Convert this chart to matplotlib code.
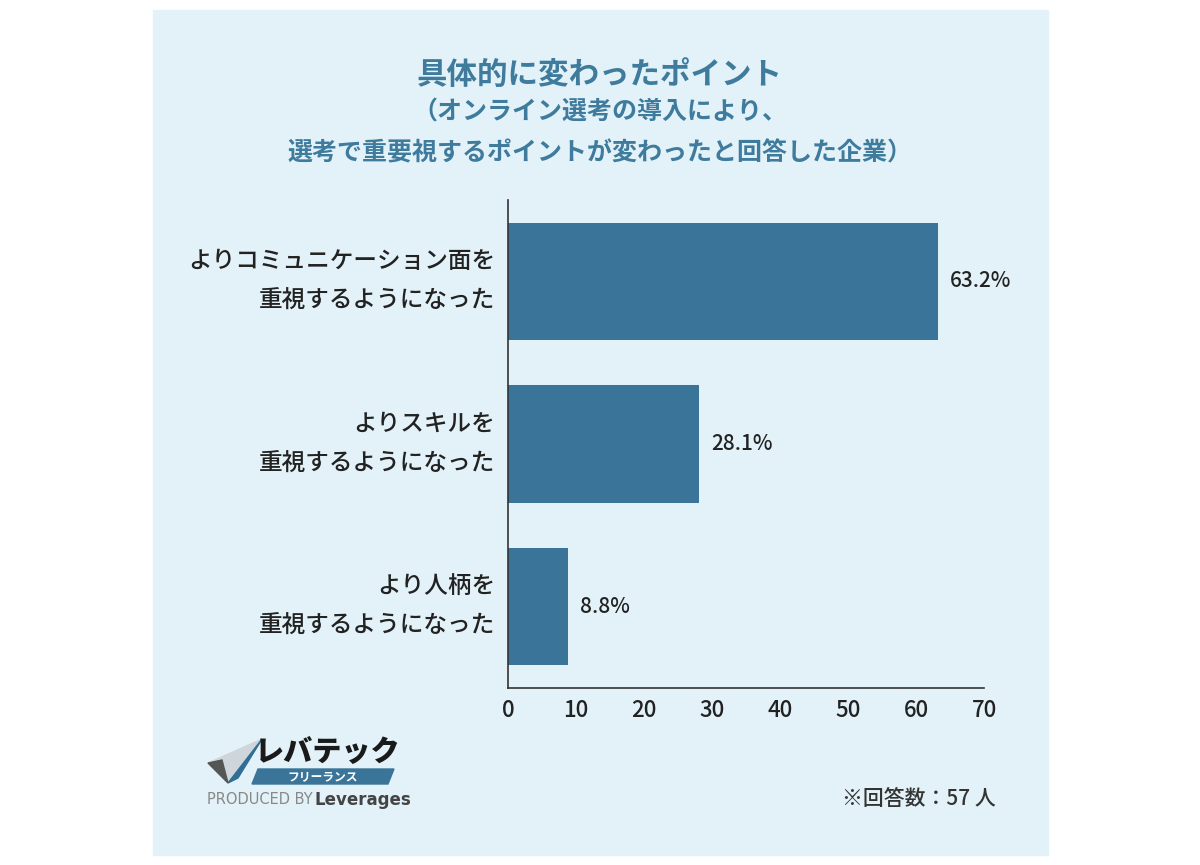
import numpy as np
import matplotlib
matplotlib.use("Agg")
import matplotlib.pyplot as plt
from matplotlib.patches import Rectangle, Polygon

plt.rcParams['font.family'] = ['Noto Sans CJK JP', 'DejaVu Sans']

#----------------------------------------------------
labels = ["よりコミュニケーション面を\n重視するようになった",
          "よりスキルを\n重視するようになった",
          "より人柄を\n重視するようになった"]
values = [63.2, 28.1, 8.8]
xticks = [0, 10, 20, 30, 40, 50, 60, 70]

bg = "#e2f2f8"
bar_col = "#3a7599"
title_col = "#3f7b9d"
text_col = "#222222"

fig = plt.figure(figsize=(12, 8.65), dpi=100)
# light panel
fig.patches.append(Rectangle((153/1200, 1-855/865), (1048-153)/1200, (855-10)/865,
                             transform=fig.transFigure, color=bg, zorder=-10))

ax = fig.add_axes([508/1200, 1-688/865, (984-508)/1200, (688-200)/865])
ax.set_facecolor("none")
y = np.arange(len(values))
ax.barh(y, values, height=0.72, color=bar_col)
ax.set_xlim(0, 70)
ax.set_ylim(2.5, -0.5)
ax.set_xticks(xticks)
ax.set_xticklabels([str(t) for t in xticks], fontsize=16, color=text_col,
                   fontweight="medium")
ax.set_yticks(y)
ax.set_yticklabels(labels, fontsize=17, color=text_col, linespacing=1.95,
                   fontweight="medium", va="center")
ax.tick_params(length=0)
ax.tick_params(axis='x', pad=8)
ax.tick_params(axis='y', pad=9)
for s in ["top", "right"]:
  ax.spines[s].set_visible(False)
for s in ["left", "bottom"]:
  ax.spines[s].set_color("#333333")
  ax.spines[s].set_linewidth(1.2)

for i, v in enumerate(values):
  ax.text(v + 1.8, i, "{:.1f}%".format(v), va="center", ha="left",
          fontsize=15, fontweight="medium", color=text_col)

# titles
fig.text(0.5, 1-75/865, "具体的に変わったポイント", ha="center", va="center",
         fontsize=22, fontweight="bold", color=title_col)
fig.text(0.5, 1-113/865, "（オンライン選考の導入により、", ha="center", va="center",
         fontsize=18, fontweight="bold", color=title_col)
fig.text(0.5, 1-153/865, "選考で重要視するポイントが変わったと回答した企業）", ha="center", va="center",
         fontsize=18, fontweight="bold", color=title_col)

fig.text(996/1200, 1-799/865, "※回答数：57 人", ha="right", va="center",
         fontsize=15, color="#333333", fontweight="medium")

# logo
def fx(px):
  return px/1200
def fy(py):
  return 1-py/865
fig.patches.append(Polygon([(fx(262), fy(739)), (fx(208), fy(763)), (fx(228), fy(783))],
                           closed=True, transform=fig.transFigure, color="#cfd6db", zorder=1))
fig.patches.append(Polygon([(fx(262), fy(739)), (fx(228), fy(783)), (fx(238), fy(778))],
                           closed=True, transform=fig.transFigure, color="#2f6e95", zorder=1))
fig.patches.append(Polygon([(fx(208), fy(763)), (fx(222), fy(760)), (fx(228), fy(783))],
                           closed=True, transform=fig.transFigure, color="#555555", zorder=1))
fig.patches.append(Polygon([(fx(258), fy(769)), (fx(394), fy(769)), (fx(388), fy(784)), (fx(252), fy(784))],
                           closed=True, transform=fig.transFigure, color="#3a7599", zorder=1))
fig.text(fx(328), fy(753), "レバテック", ha="center", va="center", fontsize=21,
         fontweight="black", fontstyle="italic", color="#1a1a1a")
fig.text(fx(323), fy(777), "フリーランス", ha="center", va="center", fontsize=8.5,
         fontweight="bold", color="white")
fig.text(fx(207), fy(800), "PRODUCED BY", ha="left", va="center", fontsize=10.5,
         color="#888888", family=["DejaVu Sans"])
fig.text(fx(314), fy(800), "Leverages", ha="left", va="center", fontsize=12,
         fontweight="bold", color="#444444", family=["DejaVu Sans"])

plt.savefig("out.png")
plt.close()
